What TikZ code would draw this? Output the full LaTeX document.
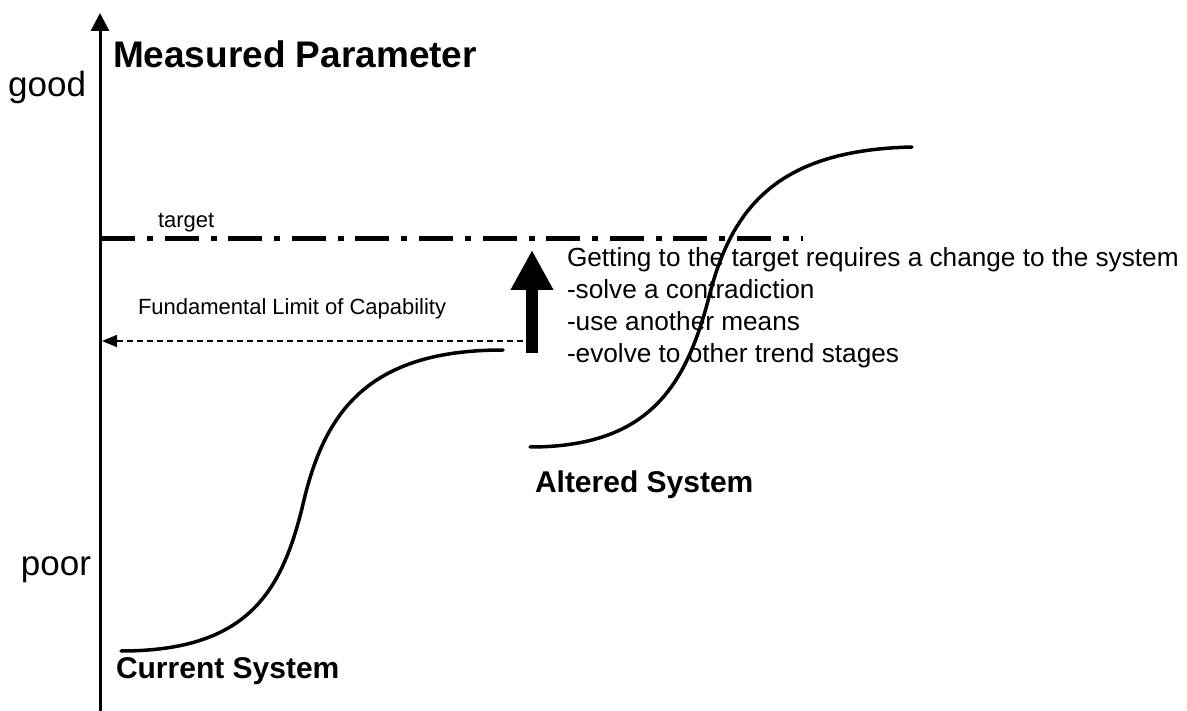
\documentclass[tikz,border=0pt]{standalone}
\usepackage{fontspec}
\setmainfont{Liberation Sans}
\usetikzlibrary{arrows.meta}

\begin{document}
\begin{tikzpicture}[x=1pt,y=-1pt,
  every node/.style={inner sep=0pt, outer sep=0pt},
  axisline/.style={line width=3pt, -{Triangle[length=18pt,width=18pt]}},
  scurve/.style={line width=3.5pt, line cap=round},
  targetline/.style={line width=5pt, dash pattern=on 34pt off 12pt on 6pt off 11.6pt},
  limitline/.style={line width=1.3pt, dash pattern=on 6pt off 4pt, -{Triangle[length=15pt,width=12pt]}},
  bigarrow/.style={line width=12pt, -{Triangle[length=40pt,width=40pt]}},
  titletext/.style={font=\fontsize{37}{44}\selectfont\bfseries, anchor=base west},
  leveltext/.style={font=\fontsize{35}{42}\selectfont, anchor=base east},
  smalltext/.style={font=\fontsize{22}{26}\selectfont, anchor=base west},
  notetext/.style={font=\fontsize{26.2}{31.7}\selectfont, anchor=north west, align=left},
  systext/.style={font=\fontsize{30}{36}\selectfont\bfseries, anchor=base west},
]
\useasboundingbox (0,0) rectangle (1187,711);

% vertical axis
\coordinate (axisbottom) at (100,711);
\coordinate (axistop) at (100,13);
\draw[axisline] (axisbottom) -- (axistop);

% labels along the axis
\node[titletext] (title) at (113,68) {Measured Parameter};
\node[leveltext] (good) at (86,97) {good};
\node[leveltext] (poor) at (91,575) {poor};

% target level
\coordinate (targetstart) at (101,239);
\coordinate (targetend) at (803,239);
\draw[targetline] (targetstart) -- (targetend);
\node[smalltext] (target) at (158,228) {target};

% current system S-curve
\coordinate (curstart) at (121,651);
\coordinate (curend) at (503,350);
\draw[scurve] (curstart) .. controls (250,651) and (283,590) .. (304,500)
  .. controls (326,408) and (372,350) .. (curend);
\node[systext] (current) at (116,678) {Current System};

% altered system S-curve
\coordinate (altstart) at (530,447);
\coordinate (altend) at (912,147);
\draw[scurve] (altstart) .. controls (650,447) and (686,385) .. (709,297)
  .. controls (732,205) and (780,150) .. (altend);
\node[systext] (altered) at (535,493) {Altered System};

% limit of capability
\coordinate (limitstart) at (523,341);
\coordinate (limitend) at (102,341);
\draw[limitline] (limitstart) -- (limitend);
\node[smalltext] (limit) at (138,315) {Fundamental Limit of Capability};

% required change
\coordinate (changebase) at (532,353);
\coordinate (changetip) at (532,250);
\draw[bigarrow] (changebase) -- (changetip);
\node[notetext] (note) at (567,248) {Getting to the target requires a change to the system\\-solve a contradiction\\-use another means\\-evolve to other trend stages};
\end{tikzpicture}
\end{document}
